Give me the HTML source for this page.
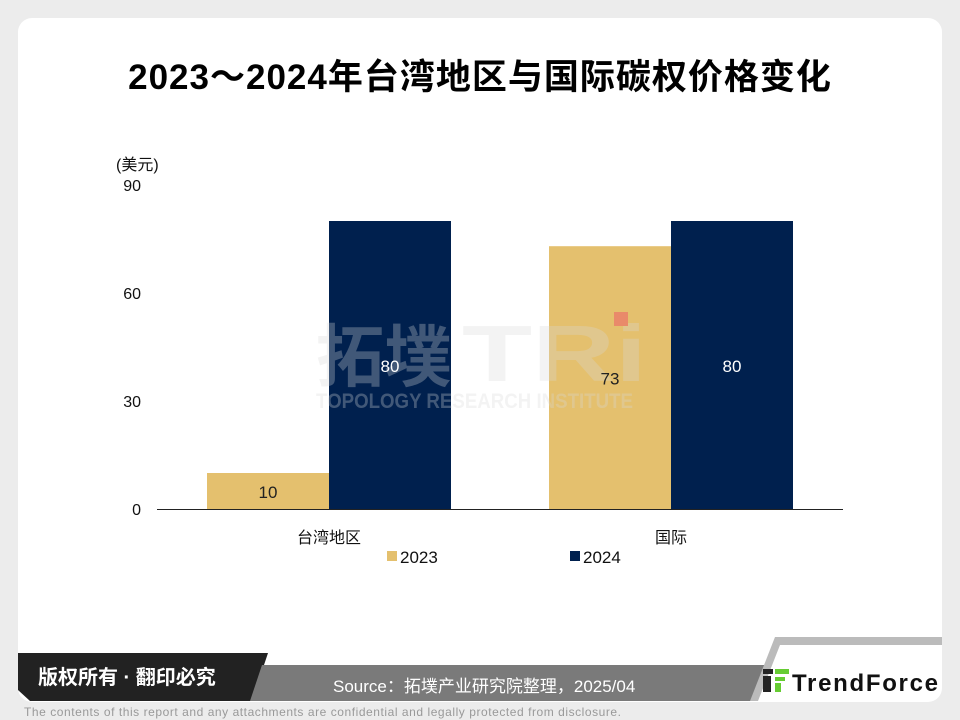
<!DOCTYPE html>
<html><head><meta charset="utf-8"><style>
body{margin:0;width:960px;height:720px;background:#ececec;font-family:"Liberation Sans","Noto Sans CJK SC",sans-serif;overflow:hidden;position:relative}
.card{position:absolute;left:18px;top:18px;width:924px;height:684px;background:#fff;border-radius:14px}
.title{position:absolute;left:0;width:960px;top:49px;text-align:center;font-size:35px;font-weight:bold;color:#000;letter-spacing:1px;font-family:"Liberation Sans","Noto Sans CJK SC",sans-serif}
</style></head><body>
<div class="card"></div>
<div class="title">2023～2024年台湾地区与国际碳权价格变化</div>
<svg id="chart" width="960" height="720" style="position:absolute;left:0;top:0"></svg>
<svg width="960" height="720" style="position:absolute;left:0;top:0">
<polygon points="18,653 268,653 252,701 30,701 18,690" fill="#222"/>
<polygon points="262,665 770,665 756,701 250,701" fill="#7a7a7a"/>
<polygon points="775,637 942,637 942,645 780,645 758,701 750,701" fill="#bbb"/>
<text x="38" y="684" fill="#fff" font-size="20" font-weight="bold" font-family="Liberation Sans,Noto Sans CJK SC,sans-serif">版权所有 · 翻印必究</text>
<text x="333" y="692" fill="#fff" font-size="17" font-family="Liberation Sans,Noto Sans CJK SC,sans-serif">Source：拓墣产业研究院整理，2025/04</text>
<rect x="763" y="669" width="10" height="5" fill="#222"/><rect x="775" y="669" width="14" height="5" fill="#6c3"/><rect x="763" y="676" width="8" height="16" fill="#222"/><rect x="775" y="677" width="10" height="4" fill="#6c3"/><rect x="775" y="683" width="6" height="9" fill="#6c3"/>
<text x="792" y="691" fill="#111" font-size="24" font-weight="bold" font-family="Liberation Sans,sans-serif" textLength="146">TrendForce</text>
<text x="24" y="716" fill="#999" font-size="12" font-family="Liberation Sans,sans-serif" textLength="597">The contents of this report and any attachments are confidential and legally protected from disclosure.</text>
</svg>
<script>
const categories=["台湾地区","国际"];
const series2023=[10,73];
const series2024=[80,80];
const yTicks=[0,30,60,90];
const svg=document.getElementById('chart');
const NS='http://www.w3.org/2000/svg';
const y0=509,yTop=185,yMax=90;
function y(v){return y0-(v/yMax)*(y0-yTop);}
const axisL=157,axisR=843,groupL=158,groupW=342,barW=122;
function gx(i){return groupL+groupW*(i+0.5);}
function mk(tag,attrs){const e=document.createElementNS(NS,tag);for(const k in attrs)e.setAttribute(k,attrs[k]);svg.appendChild(e);return e;}
const font='Liberation Sans,Noto Sans CJK SC,sans-serif';
yTicks.forEach(t=>{const e=mk('text',{x:141,y:y(t)+6,'text-anchor':'end','font-size':16,fill:'#111','font-family':font});e.textContent=t;

});
const un=mk('text',{x:116,y:170,'font-size':16,fill:'#111','font-family':font});un.textContent='(美元)';


const labels=[];
categories.forEach((c,i)=>{
 const cx=gx(i);
 [[series2023[i],'#e4c06e',cx-barW,'#222'],[series2024[i],'#00204e',cx,'#fff']].forEach(([v,col,x,tc],j)=>{
  const r=mk('rect',{x:x,y:y(v),width:barW,height:y0-y(v),fill:col});
  
  
  labels.push([x+barW/2,(y(v)+y0)/2+7,v,tc]);
 });
 const l=mk('text',{x:cx,y:543,'text-anchor':'middle','font-size':16,fill:'#111','font-family':font});l.textContent=c;
 
 
});
// watermark overlay
const wg=mk('g',{opacity:0.3});


function wt(txt,x,yy,fs,len){const e=document.createElementNS(NS,'text');e.setAttribute('x',x);e.setAttribute('y',yy);e.setAttribute('font-size',fs);e.setAttribute('font-weight','bold');e.setAttribute('fill','#d8d8d8');e.setAttribute('font-family',font);e.setAttribute('textLength',len);e.setAttribute('lengthAdjust','spacingAndGlyphs');e.textContent=txt;wg.appendChild(e);}
wt('拓墣',316,381,68,136);
wt('TRi',462,381,80,185);
wt('TOPOLOGY RESEARCH INSTITUTE',316,408,21,317);
const sq=mk('rect',{x:614,y:312,width:14,height:14,fill:'#e98a6a'});


labels.forEach(([x,yy,v,tc])=>{
  const t=mk('text',{x:x,y:yy,'text-anchor':'middle','font-size':17,fill:tc,'font-family':font});t.textContent=v;
  
  
});
const ax=mk('line',{x1:axisL,x2:axisR,y1:y0+0.5,y2:y0+0.5,stroke:'#222','stroke-width':1});


[['2023','#e4c06e',387],['2024','#00204e',570]].forEach(([n,c,x])=>{
 const r=mk('rect',{x:x,y:551,width:10,height:10,fill:c});
 
 
 const t=mk('text',{x:x+13,y:563,'font-size':17,fill:'#111','font-family':font});t.textContent=n;
 
 
});
</script>
</body></html>
